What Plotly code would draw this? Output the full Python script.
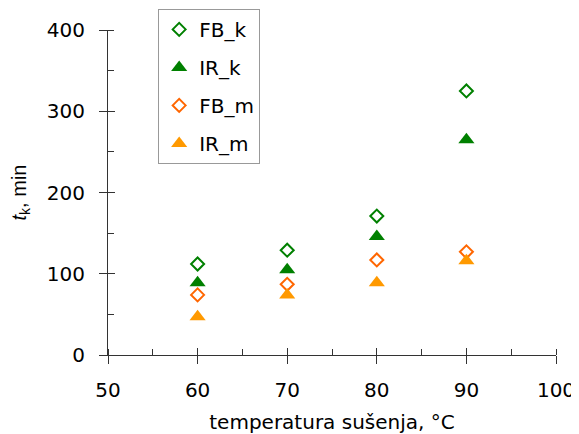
import plotly.graph_objects as go

temps = [60, 70, 80, 90]
fb_k = [112, 129, 171, 325]
ir_k = [89, 105, 146, 265]
fb_m = [74, 87, 117, 127]
ir_m = [47, 74, 89, 116]

x_ticks = [50, 60, 70, 80, 90, 100]
y_ticks = [0, 100, 200, 300, 400]

FONT = "DejaVu Sans, Liberation Sans, Arial, sans-serif"
FONT_Y = "Liberation Sans, Arial, sans-serif"

fig = go.Figure()
series = [
    ("FB_k", fb_k, "diamond-open", "#008000", 10),
    ("IR_k", ir_k, "triangle-up", "#008000", 14),
    ("FB_m", fb_m, "diamond-open", "#FF6600", 10),
    ("IR_m", ir_m, "triangle-up", "#FF9900", 14),
]
for name, vals, sym, col, sz in series:
    fig.add_trace(go.Scatter(
        x=temps, y=vals, mode="markers", name=name, legendgroup=name,
        marker=dict(symbol=sym, color=col, size=sz, line=dict(color=col, width=2 if "open" in sym else 0)),
    ))

# helper trace to draw inside half of crossing major ticks
fig.add_trace(go.Scatter(x=[None], y=[None], xaxis="x2", yaxis="y2", showlegend=False, hoverinfo="skip"))

axis_common = dict(showgrid=False, zeroline=False, showline=True, linecolor="#333333", linewidth=1,
                   tickcolor="#333333", tickwidth=1, ticklen=8, automargin=False,
                   tickfont=dict(family=FONT, size=20, color="black"))

fig.update_layout(
    width=571, height=426,
    margin=dict(l=100, r=23, t=22, b=79, autoexpand=False),
    paper_bgcolor="white", plot_bgcolor="white",
    font=dict(family=FONT, size=20, color="black"),
    xaxis=dict(range=[50, 100], tickvals=x_ticks, ticks="outside", ticklabelstandoff=9,
               minor=dict(ticks="inside", dtick=5, ticklen=6, tickcolor="#333333", tickwidth=1),
               title=dict(text="temperatura sušenja, °C", standoff=14, font=dict(size=20)),
               **axis_common),
    yaxis=dict(range=[0, 400], tickvals=y_ticks, ticks="outside", ticklabelstandoff=10,
               minor=dict(ticks="inside", dtick=50, ticklen=6, tickcolor="#333333", tickwidth=1),
               title=dict(text="<i>t</i><sub>k</sub>, min", standoff=20,
                          font=dict(family=FONT_Y, size=20)),
               **axis_common),
    xaxis2=dict(range=[50, 100], overlaying="x", anchor="y2", tickvals=x_ticks, ticks="inside",
                showticklabels=False, showgrid=False, zeroline=False, showline=False,
                tickcolor="#333333", tickwidth=1, ticklen=7),
    yaxis2=dict(range=[0, 400], overlaying="y", anchor="x2", tickvals=y_ticks, ticks="inside",
                showticklabels=False, showgrid=False, zeroline=False, showline=False,
                tickcolor="#333333", tickwidth=1, ticklen=7),
    legend=dict(x=0.112, y=1.065, xanchor="left", yanchor="top",
                bgcolor="white", bordercolor="#999999", borderwidth=1,
                font=dict(family=FONT, size=20, color="black"),
                tracegroupgap=9, itemwidth=30),
    showlegend=True,
)

fig.write_html("out.html")
